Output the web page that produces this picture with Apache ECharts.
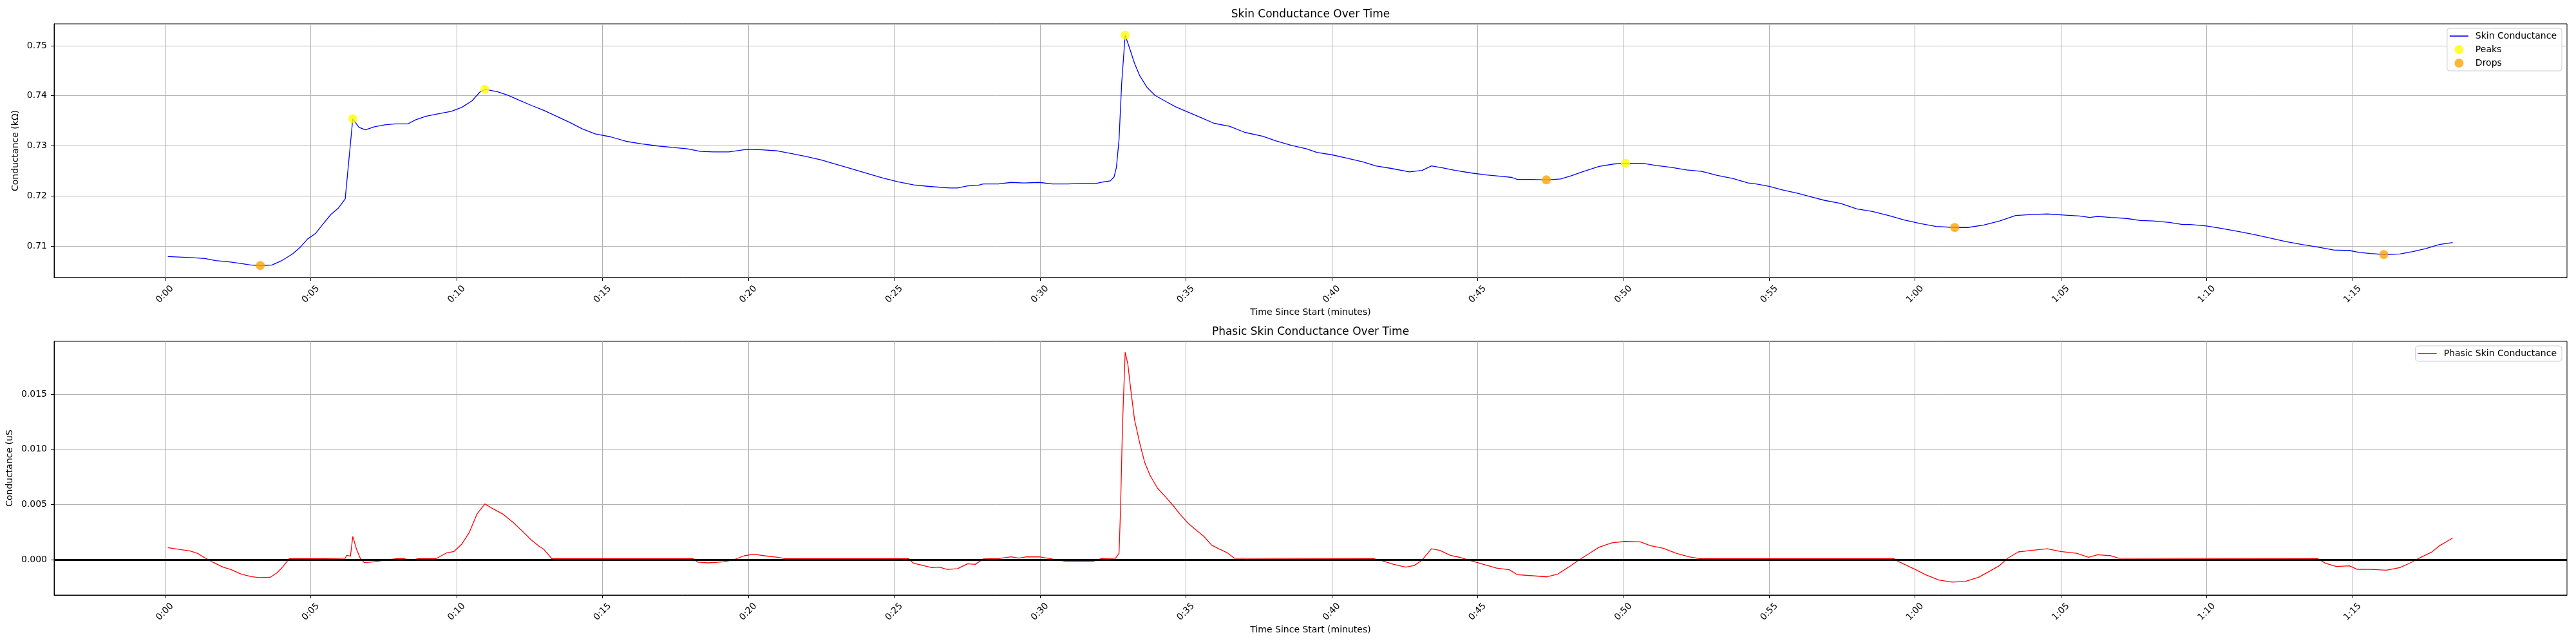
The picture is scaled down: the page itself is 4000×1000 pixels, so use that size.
<!DOCTYPE html>
<html>
<head>
<meta charset="utf-8">
<script src="https://cdn.jsdelivr.net/npm/echarts@6/dist/echarts.min.js"></script>
<style>
  html, body { margin: 0; padding: 0; background: #fff; }
  #main { width: 4000px; height: 1000px; }
</style>
</head>
<body>
<div id="main"></div>
<script>
// time in seconds since start
var skinTime = [0.1,0.85,1.37,1.73,2.25,2.6,2.96,3.27,3.66,4.01,4.37,4.63,4.89,5.16,5.42,5.69,5.95,6.18,6.44,6.65,6.87,7.18,7.54,7.89,8.33,8.59,8.94,9.38,9.82,10.18,10.53,10.79,10.97,11.41,11.76,12.11,12.55,12.99,13.43,13.87,14.31,14.75,15.28,15.81,16.34,16.87,17.39,17.92,18.36,18.8,19.33,19.95,20.47,21.0,21.44,21.97,22.5,23.03,23.56,24.08,24.61,25.14,25.67,26.2,26.9,27.17,27.52,27.87,28.05,28.57,29.01,29.45,29.98,30.42,30.95,31.39,31.92,32.18,32.41,32.54,32.62,32.71,32.8,32.92,33.06,33.24,33.42,33.68,33.94,34.3,34.65,35.09,35.53,35.97,36.5,37.02,37.64,38.08,38.61,39.14,39.49,40.02,40.55,41.07,41.51,42.04,42.66,43.1,43.42,43.8,44.24,44.77,45.3,45.83,46.18,46.36,46.88,47.36,47.85,48.2,48.64,49.17,49.7,50.07,50.67,51.11,51.64,52.17,52.69,53.22,53.75,54.28,54.55,55.0,55.45,56.0,56.45,56.91,57.45,58.0,58.54,59.09,59.63,60.18,60.72,61.36,61.81,62.36,62.9,63.45,63.99,64.54,65.08,65.63,65.99,66.26,66.72,67.26,67.72,68.17,68.72,69.17,69.44,69.99,70.53,71.08,71.62,72.17,72.71,73.26,73.8,74.35,74.89,75.25,75.62,76.07,76.62,77.07,77.52,77.98,78.43];
var skinValues = [0.7079,0.7077,0.7075,0.7071,0.7068,0.7065,0.7062,0.7061,0.7062,0.7071,0.7084,0.7097,0.7114,0.7125,0.7144,0.7163,0.7176,0.7194,0.7354,0.7337,0.7332,0.7338,0.7342,0.7344,0.7344,0.7352,0.7359,0.7364,0.7369,0.7377,0.7390,0.7407,0.7413,0.7408,0.7401,0.7392,0.7381,0.7371,0.7359,0.7347,0.7334,0.7324,0.7318,0.7309,0.7304,0.7300,0.7297,0.7294,0.7289,0.7288,0.7288,0.7293,0.7292,0.7290,0.7285,0.7279,0.7272,0.7263,0.7254,0.7245,0.7236,0.7228,0.7222,0.7219,0.7216,0.7216,0.7220,0.7221,0.7224,0.7224,0.7227,0.7226,0.7227,0.7224,0.7224,0.7225,0.7225,0.7228,0.7230,0.7238,0.7257,0.7313,0.7425,0.7521,0.7497,0.7465,0.7440,0.7416,0.7401,0.7389,0.7378,0.7367,0.7356,0.7345,0.7339,0.7327,0.7319,0.7310,0.7301,0.7294,0.7287,0.7282,0.7275,0.7268,0.7260,0.7255,0.7248,0.7251,0.7260,0.7256,0.7251,0.7246,0.7242,0.7239,0.7237,0.7233,0.7233,0.7232,0.7234,0.7240,0.7249,0.7259,0.7264,0.7265,0.7265,0.7261,0.7257,0.7252,0.7249,0.7241,0.7235,0.7226,0.7224,0.7219,0.7212,0.7205,0.7198,0.7191,0.7185,0.7174,0.7169,0.7161,0.7152,0.7145,0.7139,0.7137,0.7137,0.7142,0.7150,0.7161,0.7163,0.7164,0.7162,0.7160,0.7157,0.7159,0.7157,0.7155,0.7151,0.7150,0.7147,0.7143,0.7143,0.7140,0.7135,0.7129,0.7123,0.7116,0.7109,0.7103,0.7098,0.7092,0.7091,0.7087,0.7085,0.7083,0.7084,0.7089,0.7095,0.7103,0.7107];

var peakTimes = [6.44, 10.97, 32.92, 50.07];
var peakValues = [0.7354, 0.7413, 0.7521, 0.7265];
var dropTimes = [3.27, 47.36, 61.36, 76.07];
var dropValues = [0.7061, 0.7232, 0.7137, 0.7083];

var phasicTime = [0.1,0.49,0.85,1.11,1.37,1.64,1.99,2.25,2.61,2.96,3.22,3.61,3.84,4.05,4.26,5.42,6.18,6.23,6.36,6.44,6.57,6.69,6.83,7.18,7.54,7.98,8.2,8.42,8.68,9.3,9.65,9.91,10.18,10.44,10.7,10.97,11.23,11.58,11.94,12.29,12.55,12.82,12.99,13.26,18.1,18.27,18.63,19.15,19.51,19.86,20.18,20.56,21.0,21.27,25.49,25.67,25.93,26.29,26.55,26.81,27.17,27.52,27.78,28.05,28.57,29.01,29.28,29.54,29.98,30.33,30.86,31.39,31.83,32.1,32.59,32.71,32.76,32.83,32.92,33.01,33.12,33.24,33.42,33.59,33.77,34.03,34.3,34.56,34.82,35.09,35.35,35.62,35.88,36.14,36.41,36.67,41.43,41.78,42.13,42.54,42.83,43.1,43.42,43.71,44.07,44.42,44.77,45.21,45.65,46.09,46.36,46.88,47.38,47.76,48.12,48.47,48.82,49.17,49.61,50.05,50.58,50.93,51.37,51.81,52.25,52.61,59.27,59.45,60.0,60.36,60.81,61.27,61.72,62.18,62.54,62.9,63.17,63.54,63.99,64.54,64.99,65.54,65.95,66.26,66.72,66.99,73.8,74.07,74.44,74.89,75.16,75.62,76.16,76.62,76.98,77.34,77.71,77.98,78.43];
var phasicValues = [0.00109,0.00093,0.0008,0.00058,0.00016,-0.00023,-0.00068,-0.00088,-0.0013,-0.00154,-0.00163,-0.0016,-0.0012,-0.00062,0.0001,0.0001,0.00012,0.00039,0.00031,0.0021,0.00093,0.00016,-0.00027,-0.0002,-0.00004,0.0001,0.0001,-0.0001,0.0001,0.0001,0.0006,0.00074,0.00142,0.00249,0.00414,0.00506,0.00463,0.00414,0.00337,0.00249,0.00181,0.00123,0.00093,0.0001,0.0001,-0.00023,-0.00029,-0.0002,0,0.00035,0.00049,0.00035,0.00021,0.0001,0.0001,-0.00033,-0.00049,-0.00072,-0.00068,-0.00088,-0.00082,-0.00037,-0.00043,0.00006,0.0001,0.00025,0.00014,0.00025,0.00025,0.0001,-0.00014,-0.00014,-0.00014,0.0001,0.00012,0.00058,0.00453,0.0123,0.01879,0.01776,0.01523,0.0127,0.01056,0.00881,0.00765,0.00648,0.0057,0.00492,0.00405,0.00327,0.00268,0.0021,0.00132,0.00097,0.00064,0.00012,0.0001,-0.00014,-0.00043,-0.00068,-0.00053,-0.00004,0.00099,0.00084,0.00039,0.00019,-0.0001,-0.00043,-0.00076,-0.00091,-0.00136,-0.00146,-0.00156,-0.0013,-0.00068,-0.00004,0.00054,0.00113,0.00152,0.00165,0.00161,0.00126,0.00103,0.00058,0.00025,0.0001,0.0001,-0.0002,-0.00088,-0.00136,-0.00185,-0.00204,-0.00198,-0.0016,-0.00107,-0.00053,0.00012,0.0007,0.00084,0.00099,0.00074,0.00058,0.00021,0.00045,0.00035,0.00012,0.0001,-0.00033,-0.00062,-0.00056,-0.00088,-0.00088,-0.00095,-0.00072,-0.00029,0.00021,0.00068,0.00126,0.00196];

var timeTicks = [0,5,10,15,20,25,30,35,40,45,50,55,60,65,70,75];
var skinTicks = [0.71,0.72,0.73,0.74,0.75];
var phasicTicks = [0,0.005,0.01,0.015];

function zip(xs, ys) {
    return xs.map(function (x, i) { return [x, ys[i]]; });
}
function fmtTime(v) {
    var m = Math.floor(v / 60);
    var s = Math.round(v - m * 60);
    return m + ':' + (s < 10 ? '0' : '') + s;
}

var font = 'DejaVu Sans';
var gridLine = { show: true, lineStyle: { color: '#b0b0b0', width: 1 } };
// thin bar used as the legend icon of line series
var lineIcon = 'path://M0,0h29v1.6h-29z';

function xAxisFor(idx) {
    return {
        type: 'value', gridIndex: idx, min: -3.8, max: 82.35,
        name: 'Time Since Start (minutes)', nameLocation: 'middle', nameGap: 47,
        nameTextStyle: { fontFamily: font, fontSize: 14, color: '#000' },
        axisLine: { show: true, onZero: false, lineStyle: { color: '#000', width: 1 } },
        axisTick: { show: true, inside: false, length: 5, customValues: timeTicks, lineStyle: { color: '#000' } },
        axisLabel: {
            customValues: timeTicks, rotate: 45, align: 'center', verticalAlign: 'middle', margin: 26,
            fontFamily: font, fontSize: 14, color: '#000', formatter: fmtTime
        },
        splitLine: gridLine
    };
}

var myChart = echarts.init(document.getElementById('main'));
option = {
    backgroundColor: '#fff',
    animation: false,
    title: [
        { text: 'Skin Conductance Over Time', left: 2035, top: 14, textAlign: 'center', padding: 0,
          textStyle: { fontFamily: font, fontSize: 17, fontWeight: 'normal', color: '#000' } },
        { text: 'Phasic Skin Conductance Over Time', left: 2035, top: 507, textAlign: 'center', padding: 0,
          textStyle: { fontFamily: font, fontSize: 17, fontWeight: 'normal', color: '#000' } }
    ],
    legend: [
        { data: [{ name: 'Skin Conductance', icon: lineIcon }, { name: 'Peaks', icon: 'circle' }, { name: 'Drops', icon: 'circle' }],
          orient: 'vertical', right: 22, top: 44,
          itemWidth: 29, itemHeight: 14, itemGap: 7, padding: [5, 8, 5, 4],
          backgroundColor: 'rgba(255,255,255,0.8)', borderColor: '#cccccc', borderWidth: 1, borderRadius: 4,
          textStyle: { fontFamily: font, fontSize: 14, color: '#000', padding: [0, 0, 0, 6] } },
        { data: [{ name: 'Phasic Skin Conductance', icon: lineIcon }], orient: 'vertical', right: 22, top: 537,
          itemWidth: 29, itemHeight: 14, padding: [5, 8, 5, 4],
          backgroundColor: 'rgba(255,255,255,0.8)', borderColor: '#cccccc', borderWidth: 1, borderRadius: 4,
          textStyle: { fontFamily: font, fontSize: 14, color: '#000', padding: [0, 0, 0, 6] } }
    ],
    grid: [
        { left: 84, right: 14, top: 37, height: 394, show: true, borderColor: '#000', borderWidth: 1 },
        { left: 84, right: 14, top: 530, height: 394, show: true, borderColor: '#000', borderWidth: 1 }
    ],
    xAxis: [xAxisFor(0), xAxisFor(1)],
    yAxis: [
        {
            type: 'value', gridIndex: 0, min: 0.7037, max: 0.75437,
            name: 'Conductance (kΩ)', nameLocation: 'middle', nameGap: 48,
            nameTextStyle: { fontFamily: font, fontSize: 14, color: '#000' },
            axisLine: { show: true, onZero: false, lineStyle: { color: '#000' } },
            axisTick: { show: true, length: 5, customValues: skinTicks, lineStyle: { color: '#000' } },
            axisLabel: { customValues: skinTicks, margin: 11, fontFamily: font, fontSize: 14, color: '#000',
                formatter: function (v) { return v.toFixed(2); } },
            splitLine: gridLine
        },
        {
            type: 'value', gridIndex: 1, min: -0.00321, max: 0.01979,
            name: 'Conductance (uS', nameLocation: 'middle', nameGap: 57,
            nameTextStyle: { fontFamily: font, fontSize: 14, color: '#000' },
            axisLine: { show: true, onZero: false, lineStyle: { color: '#000' } },
            axisTick: { show: true, length: 5, customValues: phasicTicks, lineStyle: { color: '#000' } },
            axisLabel: { customValues: phasicTicks, margin: 11, fontFamily: font, fontSize: 14, color: '#000',
                formatter: function (v) { return v.toFixed(3); } },
            splitLine: gridLine
        }
    ],
    series: [
        {
            name: 'Skin Conductance', type: 'line', xAxisIndex: 0, yAxisIndex: 0,
            data: zip(skinTime, skinValues), symbol: 'none',
            lineStyle: { color: '#0000ff', width: 1.3 }, itemStyle: { color: '#0000ff' }
        },
        {
            name: 'Peaks', type: 'scatter', xAxisIndex: 0, yAxisIndex: 0,
            data: zip(peakTimes, peakValues), symbol: 'circle', symbolSize: 14,
            itemStyle: { color: '#ffff00' }, z: 5
        },
        {
            name: 'Drops', type: 'scatter', xAxisIndex: 0, yAxisIndex: 0,
            data: zip(dropTimes, dropValues), symbol: 'circle', symbolSize: 14,
            itemStyle: { color: '#ffa500' }, z: 5
        },
        {
            name: 'Phasic Skin Conductance', type: 'line', xAxisIndex: 1, yAxisIndex: 1,
            data: zip(phasicTime, phasicValues), symbol: 'none',
            lineStyle: { color: '#ff0000', width: 1.3 }, itemStyle: { color: '#ff0000' },
            markLine: {
                silent: true, symbol: 'none', label: { show: false },
                lineStyle: { color: '#000', width: 3, type: 'solid' },
                data: [{ yAxis: 0 }]
            }
        }
    ]
};
myChart.setOption(option);
</script>
</body>
</html>
